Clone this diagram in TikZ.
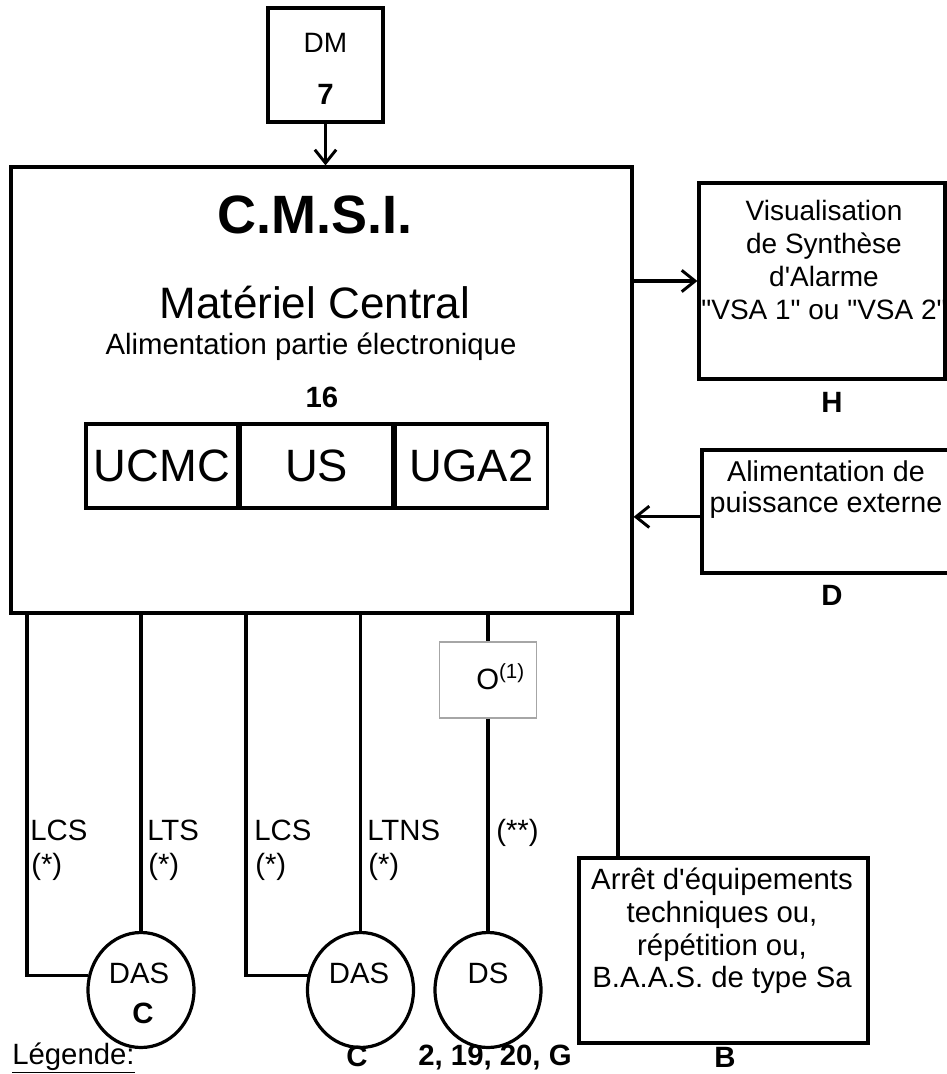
\documentclass[tikz,border=0pt]{standalone}
\usepackage{fontspec}
\setmainfont{Liberation Sans}[Ligatures=TeXOff]
\usetikzlibrary{arrows.meta,shapes.geometric}

\begin{document}
\begin{tikzpicture}[x=0.75pt, y=-0.75pt,
    sized/.style 2 args={minimum width=#1*0.75pt, minimum height=#2*0.75pt},
    box/.style={draw, line width=2.4pt, inner sep=0pt},
    wire/.style={line width=2.4pt},
    feed/.style={wire, -{Straight Barb[length=10pt,width=16pt,line width=2.2pt]}},
    txt/.style={inner sep=0pt, anchor=base, font=\fontsize{22}{26}\selectfont},
    ref/.style={txt, font=\fontsize{22}{26}\selectfont\bfseries},
    unit/.style={box, sized={151.7}{84}, font=\fontsize{34}{40}\selectfont},
  ]
\useasboundingbox (0,0) rectangle (946,1074);

\node[box, sized={115}{114}] (dm) at (325.5,65) {};
\node[txt, font=\fontsize{21}{25}\selectfont] at (325.5,53) {DM};
\node[ref] at (325.5,104) {7};

\node[box, sized={621}{446}] (cmsi) at (321.5,390) {};
\node[txt, font=\fontsize{40.5}{48}\selectfont\bfseries] at (315,233) {C.M.S.I.};
\node[txt, font=\fontsize{33}{40}\selectfont] at (315,318) {Matériel Central};
\node[txt] at (311,354) {Alimentation partie électronique};
\node[ref] at (322,407) {16};
\node[unit] (ucmc) at (161.8,466) {UCMC};
\node[unit, anchor=west] (us) at (ucmc.east) {US};
\node[unit, anchor=west] (uga) at (us.east) {UGA2};

\node[box, sized={246}{196}] (vsa) at (822,281) {};
\node[txt, anchor=center, align=center, font=\fontsize{21}{24.75}\selectfont]
  at (824,260) {Visualisation\\de Synthèse\\d'Alarme\\"VSA 1" ou "VSA 2"};
\node[ref] at (832,412) {H};

\node[box, sized={273}{123}] (alim) at (838.5,511.5) {};
\node[txt, anchor=center, align=center, font=\fontsize{21.5}{23.25}\selectfont]
  at (826,490) {Alimentation de\\puissance externe};
\node[ref] at (832,605) {D};

\node[draw=gray!70, line width=0.8pt, sized={97}{76}] (obox) at (488,680) {};
\node[txt, anchor=base west] at (476,689) {O\textsuperscript{(1)}};

\node[draw, ellipse, wire, sized={106}{115}, inner sep=0pt] (das1) at (141,990) {};
\node[draw, ellipse, wire, sized={106}{115}, inner sep=0pt] (das2) at (360.5,990) {};
\node[draw, ellipse, wire, sized={106}{115}, inner sep=0pt] (ds) at (488,990) {};
\node[txt] at (139,983) {DAS};
\node[ref] at (143,1023) {C};
\node[txt] at (359,983) {DAS};
\node[ref] at (357,1066) {C};
\node[txt] at (488,983) {DS};
\node[ref] at (495,1065) {2, 19, 20, G};

\node[box, sized={289}{185}] (arret) at (723.5,950.5) {};
\node[txt, anchor=center, align=center, font=\fontsize{22}{24.5}\selectfont]
  at (722,931) {Arrêt d'équipements\\techniques ou,\\répétition ou,\\B.A.A.S. de type Sa};
\node[ref] at (725,1067) {B};

\node[txt, anchor=base west] at (12,1064) {\underline{Légende:}};

\draw[feed] (dm) -- (cmsi.north -| dm);
\draw[feed] (vsa.west -| cmsi.east) -- (vsa.west);
\draw[feed] ([yshift=-4pt]alim.west) -- ([yshift=-4pt]alim.west -| cmsi.east);

\coordinate (lcsa) at (27,613);
\coordinate (lcsb) at (246,613);
\coordinate (arr) at (618,613);
\draw[wire] (lcsa) |- (das1.165);
\draw[wire] (das1.north |- cmsi.south) -- (das1.north);
\draw[wire] (lcsb) |- (das2.165);
\draw[wire] (das2.north |- cmsi.south) -- (das2.north);
\draw[wire] (obox.north |- cmsi.south) -- (obox.north);
\draw[wire] (obox.south) -- (ds.north);
\draw[wire] (arr) -- (arr |- arret.north);

\node[txt, anchor=base west] at (30,840) {LCS};
\node[txt, anchor=base west] at (31,874) {(*)};
\node[txt, anchor=base west] at (147,840) {LTS};
\node[txt, anchor=base west] at (148,874) {(*)};
\node[txt, anchor=base west] at (254,840) {LCS};
\node[txt, anchor=base west] at (255,874) {(*)};
\node[txt, anchor=base west] at (367,840) {LTNS};
\node[txt, anchor=base west] at (368,874) {(*)};
\node[txt, anchor=base west] at (496,840) {(**)};
\end{tikzpicture}
\end{document}
